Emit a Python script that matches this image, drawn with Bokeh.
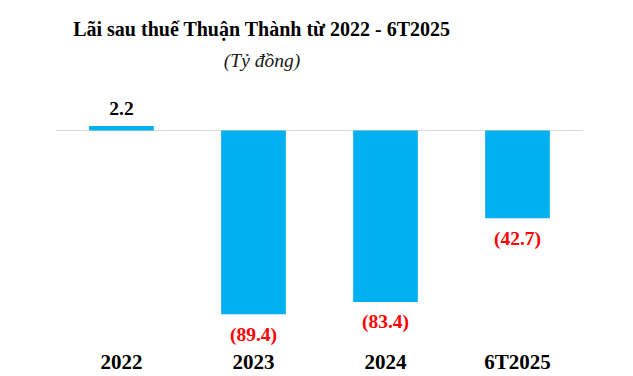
from bokeh.plotting import figure
from bokeh.models import ColumnDataSource, FactorRange, Span, Label, LabelSet
from bokeh.core.properties import value
from bokeh.embed import file_html
from bokeh.resources import INLINE

categories = ["2022", "2023", "2024", "6T2025"]
profits = [2.2, -89.4, -83.4, -42.7]
title_text = "Lãi sau thuế Thuận Thành từ 2022 - 6T2025"
subtitle_text = "(Tỷ đồng)"

labels = [f"{v:.1f}" if v >= 0 else f"({abs(v):.1f})" for v in profits]
label_colors = ["#000000" if v >= 0 else "#FF0000" for v in profits]
offsets = [-17.5 if v >= 0 else 20 for v in profits]

src = ColumnDataSource(dict(cat=categories, val=profits, label=labels,
                            color=label_colors, off=offsets))

FONT = "Liberation Serif"

p = figure(width=633, height=376,
           x_range=FactorRange(*categories), y_range=(-119.7, 63.26),
           output_backend="svg", toolbar_location=None,
           x_axis_location=None, y_axis_location=None,
           min_border_left=55, min_border_right=50,
           min_border_top=0, min_border_bottom=0)
p.outline_line_color = None
p.xgrid.visible = False
p.ygrid.visible = False
p.background_fill_color = "white"
p.border_fill_color = "white"

p.add_layout(Span(location=0, dimension="width", line_color="#D9D9D9",
                  line_width=1, level="underlay"))

p.vbar(x="cat", top="val", bottom=0, width=0.49, color="#00B0F0",
       line_color=None, source=src)

p.text(x="cat", y="val", text="label", text_color="color", y_offset="off",
       text_align="center", text_baseline="middle",
       text_font=value(FONT), text_font_style="bold",
       text_font_size="19.5px", source=src)

p.add_layout(LabelSet(x="cat", y=7.7, y_units="screen", text="cat",
                      source=src, text_align="center",
                      text_baseline="alphabetic", text_font=FONT,
                      text_font_style="bold", text_font_size="21px",
                      text_color="black"))

p.add_layout(Label(x=206.5, y=348, x_units="screen", y_units="screen",
                   text=title_text, text_align="center",
                   text_baseline="alphabetic", text_font=FONT,
                   text_font_style="bold", text_font_size="20px",
                   text_color="black"))
p.add_layout(Label(x=206.5, y=316.5, x_units="screen", y_units="screen",
                   text=subtitle_text, text_align="center",
                   text_baseline="alphabetic", text_font=FONT,
                   text_font_style="italic", text_font_size="19.5px",
                   text_color="#1a1a1a"))

open("out.html", "w").write(file_html(p, INLINE))
